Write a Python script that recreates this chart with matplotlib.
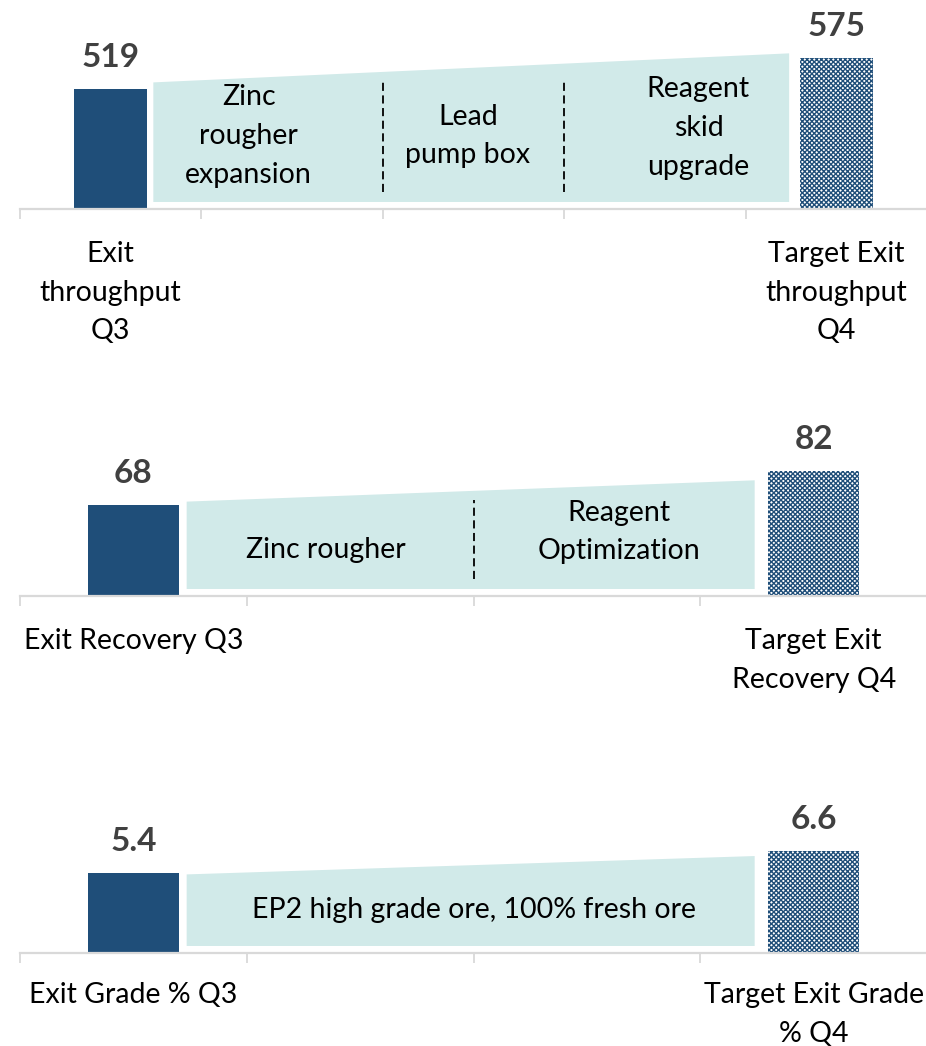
import matplotlib.pyplot as plt
from matplotlib.patches import Polygon

plt.rcParams['font.family'] = ['Lato', 'DejaVu Sans']
plt.rcParams['hatch.linewidth'] = 1.0

# ---- data ----
tp_cats = ['Exit\nthroughput\nQ3', '', '', '', 'Target Exit\nthroughput\nQ4']
tp_vals = [519, 575]
tp_bridge = [531, 584]
tp_steps = ['Zinc\nrougher\nexpansion', 'Lead\npump box', 'Reagent\nskid\nupgrade']

rec_cats = ['Exit Recovery Q3', '', '', 'Target Exit\nRecovery Q4']
rec_vals = [68, 82]
rec_bridge = [69.4, 78.3]
rec_steps = ['Zinc rougher', 'Reagent\nOptimization']

gr_cats = ['Exit Grade % Q3', '', '', 'Target Exit Grade\n% Q4']
gr_vals = [5.4, 6.6]
gr_bridge = [5.32, 6.33]
gr_steps = ['EP2 high grade ore, 100% fresh ore']

# ---- style ----
W, H = 926, 1046
dark = '#1f4e79'
teal = '#d1eae9'
grey = '#d9d9d9'
txt = '#404040'
fs = 20.5
fs_val = 24
lsp = 1.6

fig = plt.figure(figsize=(W / 100, H / 100), dpi=100)


def panel(axis_px, top_px, ylim, cats, vals, bridge, steps, step_x, step_px, seps,
          pad=23):
    ax = fig.add_axes([20 / W, 1 - axis_px / H, 907 / W, (axis_px - top_px) / H])
    n = len(cats)
    ax.set_xlim(-0.5, n - 0.5)
    ax.set_ylim(*ylim)
    ppu = (axis_px - top_px) / (ylim[1] - ylim[0])  # pixels per unit

    def up(px):
        return ylim[0] + px / ppu

    x0, x1 = 0, n - 1
    ax.bar([x0], [vals[0]], width=0.4, color=dark, zorder=1)
    ax.bar([x1], [vals[1]], width=0.4, color='white', edgecolor=dark,
           hatch='xxxxxxx', linewidth=0, zorder=1)
    for x, v in zip([x0, x1], vals):
        ax.annotate(f'{v:g}', (x, v), xytext=(0, 23), textcoords='offset points',
                    ha='center', va='center', fontsize=fs_val, fontweight='bold',
                    color=txt, annotation_clip=False)

    # bridge shape
    l, r = x0 + 0.2 + 0.035, x1 - 0.2 - 0.06
    b = up(7)
    ax.add_patch(Polygon([(l, b), (r, b), (r, bridge[1]), (l, bridge[0])],
                         closed=True, facecolor=teal, edgecolor='none', zorder=2))
    for s in seps:
        ax.plot([s, s], [up(17), up((bridge[0] - ylim[0]) * ppu + 2)], color='black',
                lw=1.3, ls=(0, (4.5, 2.5)), zorder=3)
    for t, sx, sp in zip(steps, step_x, step_px):
        ax.text(sx, up(sp), t, ha='center', va='center', fontsize=fs,
                linespacing=lsp, zorder=4)

    ax.set_xticks(range(n))
    ax.set_xticklabels(cats, fontsize=fs, linespacing=lsp)
    ax.set_xticks([i - 0.5 for i in range(n + 1)], minor=True)
    ax.tick_params(axis='x', which='major', length=0, pad=pad)
    ax.tick_params(axis='x', which='minor', length=7, width=1.3, color=grey)
    ax.set_yticks([])
    for sp in ['top', 'left', 'right']:
        ax.spines[sp].set_visible(False)
    ax.spines['bottom'].set_color(grey)
    ax.spines['bottom'].set_linewidth(1.6)
    ax.patch.set_alpha(0)
    return ax


panel(209, 30, (300, 626.6), tp_cats, tp_vals, tp_bridge, tp_steps,
      [0.76, 1.97, 3.24], [73, 73, 81], [1.5, 2.5])
panel(596, 430, (30, 99.3), rec_cats, rec_vals, rec_bridge, rec_steps,
      [0.85, 2.14], [46, 64], [1.5])
panel(953, 800, (1.0, 9.41), gr_cats, gr_vals, gr_bridge, gr_steps,
      [1.5], [43], [], pad=21)

fig.savefig('out.png', dpi=100)
